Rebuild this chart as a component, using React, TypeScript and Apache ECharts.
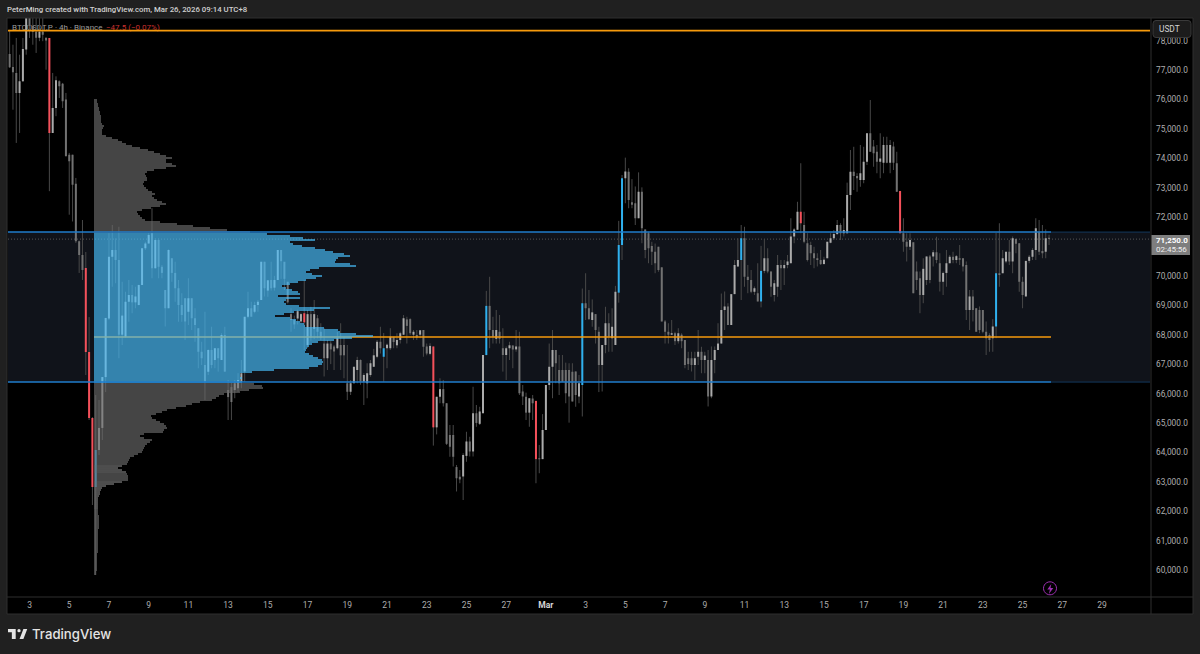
import { useEffect, useRef } from 'react'
import * as echarts from 'echarts'

// 4h candles, one row per candle: [open, close, low, high]
const CANDLES: number[][] = [
  [77540, 77090, 77070, 78370], [77100, 76920, 75650, 77860], [76900, 76220, 74520, 78090], [76220, 76620, 74860, 77520], [76620, 77715, 76600, 78090],
  [77700, 78770, 77520, 79200], [78770, 78500, 78090, 79300], [78500, 78300, 77860, 79200], [78300, 78100, 77580, 79100], [78100, 78300, 77980, 79000],
  [78300, 78200, 77980, 78770], [78100, 78000, 77010, 78100], [78090, 74860, 72880, 78090], [74860, 75710, 74860, 76900], [75710, 76650, 75430, 76785],
  [76620, 76450, 76050, 76650], [76530, 75935, 75710, 76560], [76000, 74070, 74070, 76220], [74120, 73900, 72080, 74180], [74120, 73100, 71850, 74120],
  [73130, 71180, 71120, 73330], [71180, 70710, 70100, 71200], [70710, 70200, 69860, 71900], [70268, 67412, 66630, 70812], [67412, 65168, 65100, 68600],
  [65168, 62822, 62210, 65200], [62822, 64080, 59830, 65950], [64080, 64830, 63910, 65780], [64830, 66560, 64420, 66560], [66560, 68570, 66050, 68570],
  [68550, 70650, 68500, 71450], [70650, 70880, 69630, 71730], [70880, 70540, 69750, 71280], [70540, 68000, 67200, 71670], [68000, 68650, 67650, 69800],
  [67930, 69120, 67900, 69460], [69120, 69350, 68440, 69860], [69350, 69100, 68730, 69690], [69100, 69300, 68900, 69630], [69010, 69690, 69000, 69700],
  [69690, 70940, 69690, 70950], [70940, 71100, 70880, 71160], [71100, 71390, 71100, 71450], [71450, 70260, 69920, 72300], [70260, 71220, 70250, 71280],
  [71220, 70310, 69920, 71280], [70310, 70100, 69920, 70370], [69520, 68900, 68280, 69520], [68900, 70880, 68900, 70900], [70600, 70100, 69800, 70600],
  [70100, 69580, 69120, 70480], [69580, 69010, 68440, 69860], [69010, 68670, 68440, 69410], [69240, 68450, 67820, 69240], [68780, 69240, 68330, 69920],
  [69240, 68560, 68160, 69240], [68560, 68330, 67760, 68900], [68220, 67420, 66860, 68220], [67420, 67200, 66970, 67760], [66970, 66400, 65780, 68780],
  [66740, 67480, 66630, 67500], [67480, 66970, 66860, 68270], [67140, 67540, 66860, 67540], [67540, 67200, 66745, 67540], [67140, 67990, 67140, 68050],
  [67990, 66745, 66745, 68270], [66120, 65880, 65100, 66460], [66220, 65712, 65100, 66360], [66120, 66350, 65840, 66460], [66180, 66460, 66060, 66690],
  [66400, 66690, 66180, 67140], [66750, 68610, 66400, 68610], [68610, 68900, 68560, 69460], [68900, 68610, 68650, 69120], [68780, 69010, 68730, 69120],
  [69010, 69120, 68780, 69180], [69180, 70480, 69180, 70480], [70480, 69580, 69300, 70480], [69500, 69850, 69290, 69860], [69860, 69580, 69500, 70480],
  [69600, 69860, 69500, 70000], [69860, 70880, 69860, 70880], [70880, 70500, 69900, 70880], [70480, 69900, 69520, 70370], [69800, 69100, 69060, 69800],
  [68700, 68500, 68100, 68900], [68500, 68350, 68200, 68650], [68550, 68800, 68350, 68850], [68450, 68700, 68400, 68750], [68730, 68420, 67480, 69860],
  [67650, 68700, 67550, 68840], [68700, 67900, 67800, 68950], [68200, 68700, 67850, 69180], [68560, 68100, 67880, 68670], [68100, 67900, 67820, 68390],
  [67700, 67200, 66580, 68220], [67200, 67700, 66800, 67820], [67700, 67500, 67000, 67780], [67600, 67430, 66800, 67650], [67540, 67880, 67500, 68100],
  [67650, 67300, 66800, 68390], [67650, 67300, 66520, 67930], [66350, 66060, 65780, 67650], [66060, 66350, 65950, 66460], [66350, 66910, 66350, 66910],
  [66800, 67140, 66350, 67250], [67140, 66410, 66300, 67160], [66400, 66630, 65610, 66690], [66350, 66690, 65840, 67030], [66630, 67030, 66570, 67140],
  [66910, 67300, 66910, 67520], [67250, 67760, 67200, 67820], [67760, 67540, 67360, 68270], [67250, 67540, 66400, 68060], [67540, 67660, 66860, 67700],
  [67540, 67930, 67480, 68220], [67930, 67750, 67540, 67890], [67640, 67820, 67540, 68050], [67820, 68050, 67700, 68100], [68000, 68560, 67990, 68670],
  [68520, 68300, 67700, 68610], [68530, 68050, 67990, 68560], [68000, 68100, 67820, 68160], [67990, 67900, 67820, 68160], [68000, 68150, 67880, 68160],
  [68160, 67590, 67250, 68160], [67600, 67360, 67300, 67700], [67350, 67620, 67300, 67710], [67600, 64850, 64230, 67600], [64850, 65890, 64610, 65890],
  [65890, 66150, 65670, 66520], [66150, 65670, 65560, 66460], [65670, 64290, 64250, 65670], [64590, 64190, 63850, 64930], [64590, 63850, 63520, 64930],
  [63500, 63120, 62670, 63570], [63170, 63080, 62950, 63400], [63180, 63910, 62380, 63970], [63880, 64370, 63680, 64700], [64370, 64030, 63860, 64530],
  [64030, 65330, 63860, 66230], [65330, 65000, 64870, 65610], [64970, 65390, 64930, 65550], [65330, 67310, 65330, 67310], [67310, 68980, 67300, 69490],
  [68980, 68160, 67540, 69970], [68160, 67930, 67700, 68610], [67860, 68160, 67700, 68840], [68100, 67860, 67700, 68670], [67540, 67310, 66745, 68220],
  [67310, 67540, 66460, 67600], [67540, 67640, 67140, 67760], [67630, 67500, 66860, 67640], [67500, 67600, 67420, 68160], [67600, 66010, 65950, 68100],
  [66070, 65900, 65610, 66290], [65890, 65350, 65100, 66030], [65350, 65840, 64870, 65840], [65830, 65670, 65100, 65950], [65750, 63770, 62950, 65750],
  [63800, 63770, 63290, 64250], [63770, 64760, 63770, 65300], [64760, 66290, 64760, 66290], [66290, 66910, 66120, 67700], [66910, 67480, 65840, 68160],
  [67480, 67030, 66350, 67480], [66800, 66350, 65950, 67310], [66800, 66400, 66400, 67310], [66800, 66010, 65670, 67050], [66800, 65900, 65010, 67030],
  [66740, 65730, 65730, 67030], [66750, 65950, 65550, 66750], [65900, 66350, 65670, 66630], [66290, 69070, 65220, 69570], [69070, 68900, 68500, 70090],
  [68900, 68530, 68500, 69520], [68500, 68760, 68270, 69200], [68700, 68160, 67700, 68700], [68100, 66970, 66050, 68270], [66970, 67650, 66070, 67650],
  [67650, 68390, 67370, 68950], [68390, 67930, 67420, 68730], [67880, 68270, 67420, 68900], [67650, 69460, 67650, 69660], [69430, 71050, 69090, 71870],
  [71050, 73320, 70540, 73430], [73320, 73550, 72470, 74020], [73540, 72580, 72300, 73660], [72500, 72420, 72300, 73290], [72470, 71960, 71730, 73040],
  [71960, 72860, 71960, 73520], [72860, 71620, 71110, 73010], [71580, 70880, 70600, 71580], [71450, 70940, 70430, 71500], [71020, 70820, 70370, 71160],
  [70820, 70430, 70090, 71100], [70990, 70200, 70140, 70990], [70290, 68450, 68450, 70300], [68450, 68100, 67700, 68500], [68100, 68000, 67700, 68390],
  [68000, 68050, 67990, 68500], [68050, 67780, 67650, 68100], [67780, 68050, 67700, 68220], [68000, 67780, 67540, 68050], [67820, 66970, 66860, 67820],
  [67200, 67000, 66800, 67420], [67200, 66970, 66750, 67420], [66970, 67200, 66460, 67420], [67250, 67420, 66970, 68160], [67420, 67140, 66690, 67590],
  [67140, 67290, 66690, 67420], [67140, 65900, 65560, 67480], [65900, 67140, 65840, 67600], [67140, 67480, 66690, 67600], [67480, 67700, 67480, 68390],
  [67700, 68840, 67700, 69400], [68840, 68960, 68160, 69470], [68960, 68330, 68330, 69070], [68330, 69380, 68330, 69380], [69380, 70370, 69380, 70540],
  [70320, 70540, 70300, 71280], [70540, 71280, 69180, 71730], [71280, 69970, 69630, 71670], [69970, 69860, 69410, 70370], [69860, 69460, 69410, 70200],
  [69460, 69580, 69350, 69640], [69410, 69130, 69130, 70430], [69130, 70170, 68930, 71020], [70170, 70600, 70090, 71250], [70600, 70150, 70090, 70940],
  [70150, 69630, 69290, 70150], [69350, 69750, 69130, 69860], [69630, 70370, 69290, 70710], [70370, 70260, 69520, 70540], [70260, 70370, 69690, 70540],
  [70370, 70490, 70260, 70710], [70430, 71340, 70430, 71960], [71340, 71580, 71110, 71620], [71570, 72180, 71570, 72520], [72180, 71790, 71450, 73830],
  [71730, 71160, 71110, 72180], [71110, 70540, 70490, 71450], [71050, 70770, 70370, 71160], [70770, 70600, 70260, 70990], [70600, 70540, 70320, 70770],
  [70540, 70400, 70370, 70880], [70400, 70550, 70430, 70650], [70600, 71160, 70600, 71160], [71130, 71280, 71110, 71450], [71280, 71420, 71220, 71560],
  [71420, 71730, 71390, 71900], [71730, 71450, 71220, 71790], [71450, 71560, 71340, 71960], [71450, 72750, 71450, 73170], [72750, 73540, 72240, 74280],
  [73540, 73400, 72920, 74390], [73400, 73320, 72860, 73490], [73260, 73490, 73030, 74450], [73260, 73880, 73150, 74390], [73880, 74850, 73770, 74850],
  [74850, 74220, 74220, 75980], [74400, 74170, 73710, 74620], [74220, 73880, 73490, 74450], [73880, 73990, 73320, 74850], [73850, 74450, 73490, 74730],
  [74450, 73850, 73830, 74730], [73850, 74450, 73490, 74620], [74400, 73850, 73600, 74560], [73830, 72860, 72860, 74220], [72890, 71450, 71450, 72890],
  [71450, 71160, 70820, 71960], [71160, 70990, 70490, 71450], [70990, 71220, 70880, 71450], [71140, 69410, 69410, 71140], [70150, 69860, 69520, 70490],
  [69920, 69350, 68730, 70150], [69350, 70240, 69070, 70600], [69860, 70660, 69690, 70660], [70660, 69860, 69750, 70710], [70660, 70800, 70320, 70880],
  [70800, 70540, 70430, 71330], [70430, 69800, 69470, 70770], [69800, 70100, 69350, 70150], [70100, 70430, 69630, 70880], [70430, 70650, 70430, 70710],
  [70650, 70540, 70430, 70820], [70540, 70670, 70430, 70710], [70600, 70550, 70370, 71050], [70600, 70320, 70150, 70600], [70370, 68840, 68500, 70490],
  [68840, 69300, 68160, 69520], [69300, 68840, 68450, 69520], [68900, 68100, 68100, 68900], [68840, 68160, 68050, 68960], [68840, 68100, 68050, 68840],
  [68100, 67880, 67310, 68450], [67990, 67820, 67420, 68050], [67880, 68280, 67420, 68530], [68280, 70090, 67880, 71460], [70090, 70030, 69630, 71790],
  [70090, 70600, 70090, 70880], [70490, 70820, 70430, 70820], [70820, 70490, 70370, 71220], [70490, 71280, 70090, 71340], [71250, 71090, 70770, 71280],
  [71110, 69800, 69460, 71110], [69800, 69350, 68900, 69970], [69300, 70510, 69300, 70510], [70510, 70650, 70430, 70710], [70650, 70880, 70540, 70940],
  [70880, 71620, 70540, 71960], [71500, 70820, 70710, 71900], [70850, 70770, 70600, 71730], [70820, 71280, 70600, 71580], [71300, 71250, 71050, 71400],
]
const RED_CANDLES = [12, 23, 24, 25, 89, 128, 159, 239, 269]
const BLUE_CANDLES = [26, 113, 144, 173, 184, 185, 221, 227, 298]

// Visible-range volume profile, top row first
const PROFILE_TOP_PRICE = 75980
const PROFILE_ROW_STEP = 68
const PROFILE_VOLUMES = [
  3, 3, 4, 4, 5, 5, 6, 6, 7, 7, 7, 7, 8, 10, 9, 8, 8, 8, 12, 18,
  24, 28, 32, 38, 46, 54, 60, 66, 72, 78, 72, 72, 78, 82, 72, 60, 53, 51, 52, 53,
  53, 50, 49, 50, 52, 54, 58, 61, 58, 60, 63, 68, 72, 66, 57, 48, 43, 44, 46, 48,
  51, 66, 83, 99, 116, 133, 156, 173, 196, 209, 221, 196, 199, 208, 221, 231, 239, 250, 256, 244,
  242, 241, 256, 262, 225, 216, 212, 218, 228, 222, 212, 204, 196, 188, 192, 198, 204, 206, 184, 206,
  192, 190, 192, 205, 236, 220, 200, 190, 181, 196, 202, 206, 210, 211, 230, 244, 246, 262, 279, 258,
  240, 224, 218, 215, 213, 212, 211, 215, 219, 224, 228, 229, 228, 224, 215, 180, 158, 146, 146, 148,
  146, 148, 160, 168, 169, 155, 146, 130, 125, 122, 118, 106, 98, 92, 82, 73, 68, 62, 57, 58,
  62, 66, 70, 72, 73, 70, 69, 50, 46, 50, 58, 56, 53, 51, 50, 49, 48, 44, 40, 36,
  35, 34, 33, 28, 24, 28, 32, 33, 34, 34, 34, 28, 20, 12, 8, 7, 6, 6, 5, 4,
  4, 4, 4, 4, 4, 4, 4, 4, 5, 5, 5, 5, 5, 5, 5, 4, 4, 4, 4, 4,
  4, 4, 4, 4, 4, 4, 4, 3, 3, 3, 3, 3, 3, 3, 3, 3, 2, 2,
]

const VALUE_AREA_HIGH = 71490
const VALUE_AREA_LOW = 66390
const POINT_OF_CONTROL = 67920
const TOP_LEVEL = 78340
const LAST_PRICE = 71250

const SLOT_COUNT = 345
const LAST_LABELLED_SLOT = 330
const Y_MIN = 59000
const Y_MAX = 79000
// ticks without a label: the axis ends, and the one under the last-price badge
const UNLABELLED_TICKS = [Y_MIN, Y_MAX, 71000]

// Every slot is 4h, first slot starts on Feb 2
const SLOT_LABELS = Array.from({ length: SLOT_COUNT }, (_, i) => {
  const day = Math.floor(i / 6) + 2
  if (day <= 28) return String(day)
  return day === 29 ? 'Mar' : String(day - 28)
})

const FONT = 'Roboto, "Liberation Sans", sans-serif'
const WICK_COLOR = '#484848'
const UP_COLOR = '#ababab'
const DOWN_COLOR = '#727272'
const RED = '#f4505a'
const BLUE = '#2fb0ee'
const LINE_BLUE = '#1f7ccb'
const ORANGE = '#f59a0c'

const candleColor = (i: number, up: boolean) => {
  if (RED_CANDLES.includes(i)) return RED
  if (BLUE_CANDLES.includes(i)) return BLUE
  return up ? UP_COLOR : DOWN_COLOR
}

const renderCandle = (_params: any, api: any) => {
  const i = api.value(0)
  const open = api.value(1)
  const close = api.value(2)
  const x = api.coord([i, open])[0]
  const top = api.coord([i, Math.max(open, close)])[1]
  const bottom = api.coord([i, Math.min(open, close)])[1]
  const low = api.coord([i, api.value(3)])[1]
  const high = api.coord([i, api.value(4)])[1]
  return {
    type: 'group',
    children: [
      { type: 'line', shape: { x1: x, y1: high, x2: x, y2: low }, style: { stroke: WICK_COLOR, lineWidth: 1 } },
      {
        type: 'rect',
        shape: { x: x - 1, y: top, width: 2, height: Math.max(bottom - top, 1) },
        style: { fill: candleColor(i, close > open) },
      },
    ],
  }
}

const renderProfileRow = (_params: any, api: any) => {
  const price = api.value(1)
  const start = api.coord([0, price])
  const end = api.coord([api.value(0), price])
  const inValueArea = price <= VALUE_AREA_HIGH && price >= VALUE_AREA_LOW
  return {
    type: 'rect',
    shape: { x: start[0], y: start[1] - 0.85, width: end[0] - start[0], height: 1.7 },
    style: { fill: inValueArea ? 'rgba(72,190,250,0.88)' : 'rgba(108,108,108,0.85)' },
  }
}

const renderBand = (params: any, api: any) => {
  const top = api.coord([0, api.value(1)])[1]
  const bottom = api.coord([0, api.value(2)])[1]
  const grid = params.coordSys
  return {
    type: 'rect',
    shape: { x: grid.x, y: top, width: grid.width, height: bottom - top },
    style: { fill: '#10131a' },
  }
}

// horizontal level, drawn along the hidden volume axis so it can start at the profile
const levelRenderer = (color: string, lineWidth: number, lineDash?: number[]) => (_params: any, api: any) => {
  const a = api.coord([api.value(0), api.value(2)])
  const b = api.coord([api.value(1), api.value(2)])
  return {
    type: 'line',
    shape: { x1: a[0], y1: a[1], x2: b[0], y2: b[1] },
    style: { stroke: color, lineWidth, lineDash },
  }
}

const levelSeries = (
  data: number[][],
  z: number,
  color: string,
  lineWidth: number,
  lineDash?: number[],
) => ({
  type: 'custom',
  xAxisIndex: 1,
  z,
  silent: true,
  clip: true,
  encode: { x: [0, 1], y: 2 },
  data,
  renderItem: levelRenderer(color, lineWidth, lineDash),
})

// hidden volume axis: 0 sits at the left edge of the profile
const VOL_MIN = -86
const VOL_MAX = 1056
const VOL_LINE_END = 957

const FRAME = '#202020'
const EDGE = '#2f2f2f'

export default function App() {
  const chartRef = useRef<HTMLDivElement>(null)

  useEffect(() => {
    if (!chartRef.current) return
    echarts.graphic.registerShape(
      'tvLogo',
      echarts.graphic.extendPath(
        'M14 6H0v6h7v12h7V6Zm14 18h-7l7-18h7l-7 18ZM23 9a3 3 0 1 1-6 0a3 3 0 0 1 6 0Z',
        {},
      ),
    )
    echarts.graphic.registerShape(
      'bolt',
      echarts.graphic.extendPath('M4 0L0 5.5H2.6L1.6 10L6 4H3.2Z', {}),
    )
    const chart = echarts.init(chartRef.current, null, { renderer: 'svg' })

    const option = {
      animation: false,
      backgroundColor: '#000000',
      grid: { left: 8, right: 50, top: 11.18, height: 588.24, containLabel: false },
      xAxis: [
        {
          type: 'category',
          data: SLOT_LABELS,
          z: 60,
          axisLine: { show: false },
          axisTick: { show: false },
          splitLine: { show: false },
          axisLabel: {
            interval: (i: number) => i % 12 === 6 && i <= LAST_LABELLED_SLOT,
            margin: 1.5,
            fontSize: 8.5,
            fontFamily: FONT,
            color: '#aeaeae',
            hideOverlap: false,
            formatter: (v: string) => (v === 'Mar' ? '{m|Mar}' : v),
            rich: { m: { fontWeight: 'bold', color: '#d6d6d6', fontSize: 8.5, fontFamily: FONT } },
          },
        },
        { type: 'value', show: false, min: VOL_MIN, max: VOL_MAX, splitLine: { show: false } },
      ],
      yAxis: {
        type: 'value',
        position: 'right',
        min: Y_MIN,
        max: Y_MAX,
        interval: 1000,
        z: 40,
        axisLine: { show: false },
        axisTick: { show: false },
        splitLine: { show: false },
        axisLabel: {
          margin: 6,
          fontSize: 8.3,
          fontFamily: FONT,
          color: '#aeaeae',
          formatter: (v: number) =>
            UNLABELLED_TICKS.includes(v)
              ? ''
              : v.toLocaleString('en-US', { minimumFractionDigits: 1 }),
        },
      },
      series: [
        {
          type: 'custom',
          z: 1,
          silent: true,
          encode: { x: 0, y: [1, 2] },
          data: [[0, VALUE_AREA_HIGH, VALUE_AREA_LOW]],
          renderItem: renderBand,
        },
        levelSeries([[VOL_MIN, VOL_MAX, LAST_PRICE]], 2, '#555555', 1, [1, 2]),
        {
          type: 'custom',
          z: 3,
          silent: true,
          clip: true,
          encode: { x: 0, y: [1, 2, 3, 4] },
          data: CANDLES.map((c, i) => [i, ...c]),
          renderItem: renderCandle,
        },
        levelSeries([[0, VOL_LINE_END, POINT_OF_CONTROL]], 4, ORANGE, 1.6),
        {
          type: 'custom',
          xAxisIndex: 1,
          z: 5,
          silent: true,
          clip: true,
          encode: { x: 0, y: 1 },
          data: PROFILE_VOLUMES.map((v, i) => [v, PROFILE_TOP_PRICE - i * PROFILE_ROW_STEP]),
          renderItem: renderProfileRow,
        },
        levelSeries(
          [
            [VOL_MIN, VOL_LINE_END, VALUE_AREA_HIGH],
            [VOL_MIN, VOL_LINE_END, VALUE_AREA_LOW],
          ],
          6,
          LINE_BLUE,
          1.5,
        ),
        levelSeries(
          [
            [VOL_LINE_END, VOL_MAX, VALUE_AREA_HIGH],
            [VOL_LINE_END, VOL_MAX, VALUE_AREA_LOW],
          ],
          6,
          '#12385c',
          1,
        ),
        levelSeries([[VOL_MIN, VOL_MAX, TOP_LEVEL]], 6, ORANGE, 1.8),
      ],
      graphic: [
        // chart legend sits under the candles
        {
          type: 'text',
          z: 2,
          x: 12,
          y: 23,
          style: { text: 'BTCUSDT.P · 4h · Binance', fill: '#9a9a9a', font: `8px ${FONT}` },
        },
        {
          type: 'text',
          z: 2,
          x: 106,
          y: 23,
          style: { text: '−47.5 (−0.07%)', fill: '#c9302f', font: `8px ${FONT}` },
        },
        // page frame
        { type: 'rect', z: 50, shape: { x: 0, y: 0, width: 1200, height: 18 }, style: { fill: FRAME } },
        { type: 'rect', z: 50, shape: { x: 0, y: 0, width: 7, height: 654 }, style: { fill: FRAME } },
        { type: 'rect', z: 50, shape: { x: 1193, y: 0, width: 7, height: 654 }, style: { fill: FRAME } },
        { type: 'rect', z: 50, shape: { x: 0, y: 614, width: 1200, height: 40 }, style: { fill: FRAME } },
        {
          type: 'rect',
          z: 51,
          shape: { x: 7, y: 18, width: 1186, height: 596 },
          style: { fill: 'transparent', stroke: EDGE, lineWidth: 1 },
        },
        { type: 'line', z: 51, shape: { x1: 1151, y1: 18, x2: 1151, y2: 614 }, style: { stroke: EDGE, lineWidth: 1 } },
        { type: 'line', z: 51, shape: { x1: 7, y1: 597, x2: 1193, y2: 597 }, style: { stroke: EDGE, lineWidth: 1 } },
        {
          type: 'text',
          z: 52,
          x: 7,
          y: 5,
          style: {
            text: 'PeterMing created with TradingView.com, Mar 26, 2026 09:14 UTC+8',
            fill: '#d0d0d0',
            font: `500 7.8px ${FONT}`,
          },
        },
        // price scale badges
        {
          type: 'rect',
          z: 52,
          shape: { x: 1153, y: 20.5, width: 38, height: 17, r: 3 },
          style: { fill: '#1c1c1c', stroke: '#3a3a3a', lineWidth: 1 },
        },
        {
          type: 'text',
          z: 53,
          x: 1159,
          y: 25,
          style: { text: 'USDT', fill: '#d4d4d4', font: `8.3px ${FONT}` },
        },
        {
          type: 'rect',
          z: 52,
          shape: { x: 1151.5, y: 235, width: 38.5, height: 20 },
          style: { fill: '#7e7e7e' },
        },
        {
          type: 'text',
          z: 53,
          x: 1156,
          y: 236.2,
          style: { text: '71,250.0', fill: '#ffffff', font: `bold 8px ${FONT}` },
        },
        {
          type: 'text',
          z: 53,
          x: 1156,
          y: 245.6,
          style: { text: '02:45:56', fill: '#eeeeee', font: `8px ${FONT}` },
        },
        // lightning badge
        {
          type: 'circle',
          z: 52,
          shape: { cx: 1050, cy: 588.3, r: 6.5 },
          style: { fill: 'transparent', stroke: '#9c2fb0', lineWidth: 1 },
        },
        { type: 'bolt', z: 53, x: 1047.3, y: 584, style: { fill: '#9c2fb0' } },
        // footer logo
        { type: 'tvLogo', z: 52, x: 8, y: 625.7, scaleX: 0.55, scaleY: 0.55, style: { fill: '#e4e4e4' } },
        {
          type: 'text',
          z: 52,
          x: 32,
          y: 627,
          style: { text: 'TradingView', fill: '#e4e4e4', font: `500 13.2px Inter, ${FONT}` },
        },
      ],
    }

    chart.setOption(option as any)
    return () => chart.dispose()
  }, [])

  return <div ref={chartRef} style={{ position: 'fixed', left: 0, top: 0, width: 1200, height: 654 }} />
}
